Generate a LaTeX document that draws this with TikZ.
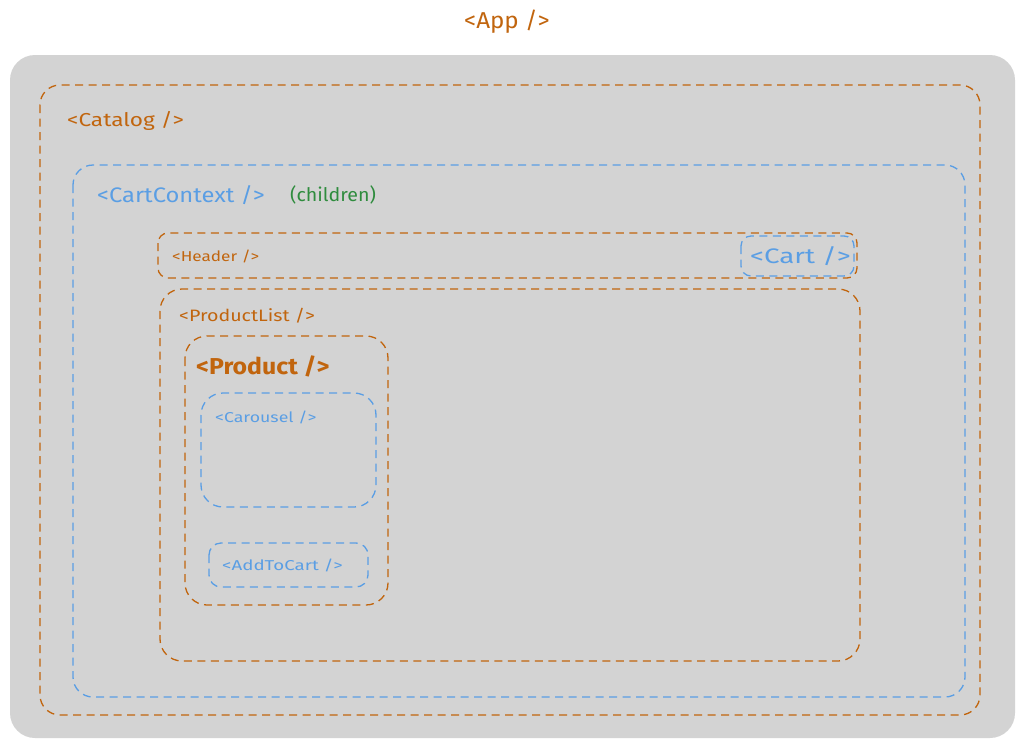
\documentclass[tikz,border=0pt]{standalone}
\usepackage{fontspec}
\usepackage{graphicx}
\setmainfont{Fira Sans}
\definecolor{og}{RGB}{193,101,14}
\definecolor{bl}{RGB}{90,158,228}
\definecolor{gr}{RGB}{47,140,62}
\definecolor{bgg}{RGB}{211,211,211}
\newcommand{\fs}[3]{\fontsize{#1}{#1}\selectfont\scalebox{#2}[1]{#3}}
\begin{document}
\begin{tikzpicture}[x=1pt,y=-1pt,
  box/.style={dash pattern=on 8pt off 5.5pt, line width=1.3pt},
  obox/.style={box, draw=og},
  bbox/.style={box, draw=bl},
  lbl/.style={inner sep=0pt, anchor=west},
]
\useasboundingbox (0,0) rectangle (1023,745);
\fill[bgg, rounded corners=25pt] (10,55) rectangle (1015,738);
\draw[obox, rounded corners=20pt] (40,85) rectangle (980,715);
\draw[bbox, rounded corners=20pt] (73,165) rectangle (965,697);
\draw[obox, rounded corners=10pt] (158,233) rectangle (857,278);
\draw[bbox, rounded corners=10pt] (741,236) rectangle (854,276);
\draw[obox, rounded corners=22pt] (160,289) rectangle (860,661);
\draw[obox, rounded corners=22pt] (185,336) rectangle (388,605);
\draw[bbox, rounded corners=22pt] (201,393) rectangle (376,507);
\draw[bbox, rounded corners=12pt] (209,543) rectangle (368,587);
\node[inner sep=0pt, text=og] (app) at (507,22) {\fs{23}{1.05}{<App />}};
\node[lbl, text=og] (catalog) at (67,121) {\fs{18.7}{1.21}{<Catalog />}};
\node[lbl, text=bl] (cartctx) at (97,195) {\fs{21}{1.13}{<CartContext />}};
\node[lbl, text=gr] (children) at (290,195) {\fs{18.7}{1.05}{(children)}};
\node[lbl, text=og] (header) at (172,256) {\fs{14.3}{1.2}{<Header />}};
\node[lbl, text=bl] (cart) at (750,256) {\fs{21}{1.32}{<Cart />}};
\node[lbl, text=og] (plist) at (179,316) {\fs{16.5}{1.19}{<ProductList />}};
\node[lbl, text=og] (product) at (196,366) {\fontseries{sb}\selectfont\fs{23}{1.08}{<Product />}};
\node[lbl, text=bl] (carousel) at (215,417) {\fs{14.3}{1.24}{<Carousel />}};
\node[lbl, text=bl] (addtocart) at (222,565) {\fs{14.3}{1.31}{<AddToCart />}};
\end{tikzpicture}
\end{document}
